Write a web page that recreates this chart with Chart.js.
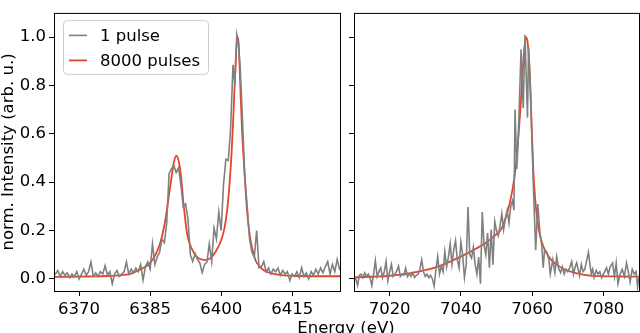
<!DOCTYPE html>
<html>
<head>
<meta charset="utf-8">
<script src="https://cdn.jsdelivr.net/npm/chart.js@4.4.1/dist/chart.umd.min.js"></script>
<style>
  html, body { margin: 0; padding: 0; background: #fff; }
  #wrap { position: relative; width: 640px; height: 333px; overflow: hidden; }
  #cLeft  { position: absolute; left: 0;     top: 0; width: 345px; height: 333px; }
  #cRight { position: absolute; left: 340px; top: 0; width: 300px; height: 333px; }
  #xTitle {
    position: absolute; left: 246px; width: 200px; top: 318px;
    text-align: center; font: 16.5px/20px "DejaVu Sans"; color: #000; white-space: nowrap;
  }
</style>
</head>
<body>
<div id="wrap">
  <canvas id="cLeft" width="345" height="333"></canvas>
  <canvas id="cRight" width="300" height="333"></canvas>
  <div id="xTitle">Energy (eV)</div>
</div>
<script>
// =====================================================
// DATA
// =====================================================

const seriesNames = ['1 pulse', '8000 pulses']

const yTicks      = [0, 0.2, 0.4, 0.6, 0.8, 1.0]
const leftXTicks  = [6370, 6385, 6400, 6415]
const rightXTicks = [7020, 7040, 7060, 7080]

// ── Kα region, single pulse ─────────────────────────
const kaPulseE = [
  6364.5, 6365, 6365.5, 6366, 6366.5, 6367, 6367.5, 6368, 6368.5, 6369, 6369.5,
  6370, 6370.5, 6371, 6371.5, 6372, 6372.5, 6373, 6373.5, 6374, 6374.5,
  6375, 6375.5, 6376, 6376.5, 6377, 6377.5, 6378, 6378.5, 6379, 6379.5,
  6380, 6380.5, 6381, 6381.5, 6382, 6382.5, 6383, 6383.5, 6384, 6384.5,
  6385, 6385.5, 6386, 6386.5, 6387, 6387.5, 6388, 6388.5, 6389, 6389.5,
  6390, 6390.5, 6391, 6391.5, 6392, 6392.5, 6393, 6393.5, 6394, 6394.5,
  6395, 6395.5, 6396, 6396.5, 6397, 6397.5, 6398, 6398.5, 6399, 6399.5,
  6400, 6400.5, 6401, 6401.5, 6402, 6402.5, 6402.9, 6403.3, 6403.6, 6404, 6404.4,
  6405, 6405.5, 6406, 6406.5, 6407, 6407.5, 6408, 6408.5, 6409, 6409.5,
  6410, 6410.5, 6411, 6411.5, 6412, 6412.5, 6413, 6413.5, 6414, 6414.5,
  6415, 6415.5, 6416, 6416.5, 6417, 6417.5, 6418, 6418.5, 6419, 6419.5,
  6420, 6420.5, 6421, 6421.5, 6422, 6422.5, 6423, 6423.5, 6424, 6424.5, 6425, 6425.5
]
const kaPulseI = [
  0.03, 0.02, 0.035, 0.01, 0.03, 0.015, 0.025, 0.005, 0.02, 0.01, 0.03,
  0.0, 0.02, 0.04, 0.015, 0.03, 0.07, 0.01, 0.025, 0.01, 0.03,
  0.02, 0.055, 0.015, 0.03, -0.02, 0.02, 0.035, 0.01, 0.02, 0.03,
  0.07, 0.02, 0.04, 0.025, 0.045, 0.03, 0.06, -0.005, 0.05, 0.07,
  0.04, 0.145, 0.06, 0.09, 0.11, 0.165, 0.15, 0.23, 0.435, 0.455,
  0.47, 0.44, 0.46, 0.39, 0.30, 0.31, 0.245, 0.10, 0.072, 0.105,
  0.08, 0.066, 0.026, 0.06, 0.07, 0.145, 0.072, 0.21, 0.165, 0.277,
  0.20, 0.39, 0.495, 0.49, 0.62, 0.885, 0.80, 1.01, 0.98, 0.88, 0.71,
  0.42, 0.30, 0.165, 0.11, 0.09, 0.20, 0.046, 0.05, 0.072, 0.03,
  0.045, 0.02, 0.04, 0.03, 0.045, 0.015, 0.035, 0.02, 0.03, -0.007,
  0.02, 0.01, 0.03, 0.005, 0.046, 0.01, 0.025, 0.0, 0.03, 0.015,
  0.04, 0.02, 0.045, 0.025, 0.05, 0.072, 0.02, 0.06, 0.03, 0.08, 0.04, 0.03
]

// ── Kα region, 8000 pulses ──────────────────────────
const kaAvgE = [
  6364.5, 6368, 6372, 6376, 6379, 6381, 6382.5, 6384, 6385, 6386, 6387, 6388, 6388.5,
  6389, 6389.6, 6390, 6390.5, 6391, 6391.3, 6391.7, 6392, 6392.4, 6392.7, 6393.2,
  6393.8, 6394.5, 6395.2, 6396, 6397, 6397.8, 6398.4, 6399.2, 6400, 6400.7, 6401.3,
  6401.8, 6402.2, 6402.6, 6403, 6403.4, 6403.7, 6404, 6404.4, 6404.9, 6405.4, 6405.9,
  6406.5, 6407.3, 6408, 6409, 6410, 6412, 6415, 6420, 6425.5
]
const kaAvgI = [
  0.008, 0.009, 0.010, 0.012, 0.016, 0.022, 0.035, 0.05, 0.066, 0.095, 0.14, 0.22, 0.28,
  0.35, 0.43, 0.48, 0.51, 0.49, 0.46, 0.39, 0.32, 0.25, 0.20, 0.155,
  0.125, 0.10, 0.086, 0.08, 0.079, 0.087, 0.10, 0.125, 0.16, 0.21, 0.29,
  0.40, 0.52, 0.68, 0.87, 1.0, 0.97, 0.82, 0.62, 0.45, 0.30, 0.20,
  0.13, 0.075, 0.055, 0.036, 0.027, 0.018, 0.013, 0.011, 0.011
]

// ── Kβ region, single pulse ─────────────────────────
const kbPulseE = [
  7009.5, 7010, 7010.5, 7011, 7011.5, 7012, 7012.5, 7013, 7013.5, 7014, 7014.5,
  7015, 7015.5, 7016, 7016.5, 7017, 7017.5, 7018, 7018.5, 7019, 7019.5,
  7020, 7020.5, 7021, 7021.5, 7022, 7022.5, 7023, 7023.5, 7024, 7024.5,
  7025, 7025.5, 7026, 7026.5, 7027, 7027.5, 7028, 7028.5, 7029, 7029.5,
  7030, 7030.5, 7031, 7031.5, 7032, 7032.5, 7033, 7033.5, 7034, 7034.5,
  7035, 7035.5, 7036, 7036.5, 7037, 7037.5, 7038, 7038.5, 7039, 7039.5,
  7040, 7040.5, 7041, 7041.5, 7042, 7042.5, 7043, 7043.5, 7044, 7044.5,
  7045, 7045.5, 7046, 7046.5, 7047, 7047.5, 7048, 7048.5, 7049, 7049.5,
  7050, 7050.5, 7051, 7051.5, 7052, 7052.5, 7053, 7053.5, 7054, 7054.5, 7054.9,
  7055.2, 7055.7, 7056.1, 7056.9, 7057.5, 7058, 7058.7, 7059, 7059.5, 7059.9,
  7060.4, 7061, 7061.6, 7062.2, 7062.7, 7063.1, 7063.5, 7064.1, 7064.7, 7065.1,
  7065.8, 7066.4, 7066.9, 7067.5, 7068, 7068.5, 7069, 7069.5, 7070, 7070.5,
  7071.1, 7071.6, 7072, 7072.5, 7073.3, 7073.8, 7074.3, 7074.8, 7075.8, 7076.6,
  7077, 7077.4, 7078, 7078.5, 7079, 7079.5, 7080, 7080.9, 7081.4, 7081.9,
  7082.6, 7083.1, 7083.6, 7084.1, 7084.7, 7085.3, 7085.9, 7086.5, 7087, 7087.5,
  7088.1, 7088.7, 7089.2, 7089.6, 7090, 7090.5
]
const kbPulseI = [
  0.01, 0.01, 0.0, -0.027, 0.015, 0.02, 0.005, 0.025, 0.01, 0.02, 0.005,
  -0.027, 0.02, 0.075, 0.01, 0.03, 0.046, 0.005, 0.03, 0.072, -0.007,
  0.03, 0.06, 0.01, 0.02, 0.033, 0.053, 0.01, 0.02, 0.015, 0.045,
  0.01, 0.02, 0.01, 0.025, 0.006, 0.015, 0.02, 0.04, 0.079, 0.03,
  0.01, 0.02, 0.005, 0.015, 0.0, -0.03, 0.04, 0.092, 0.02, 0.053,
  0.03, 0.112, 0.05, 0.09, 0.145, 0.06, 0.12, 0.158, 0.08, 0.046,
  0.152, 0.10, 0.006, 0.06, 0.297, 0.10, 0.086, 0.13, 0.06, 0.02,
  0.09, -0.02, 0.277, 0.14, 0.10, 0.19, 0.046, 0.204, 0.059, 0.238,
  0.20, 0.178, 0.22, 0.27, 0.204, 0.25, 0.284, 0.231, 0.30, 0.323, 0.284,
  0.70, 0.455, 0.58, 0.95, 0.706, 1.01, 0.667, 0.957, 0.80, 0.60,
  0.363, 0.119, 0.31, 0.19, 0.139, 0.046, 0.12, 0.112, 0.08, 0.02,
  0.079, 0.026, 0.092, 0.04, 0.026, 0.05, 0.02, 0.04, 0.03, 0.045,
  0.072, 0.02, 0.045, 0.066, 0.013, 0.06, 0.03, 0.04, 0.11, 0.02,
  0.04, 0.006, 0.035, 0.02, 0.03, 0.005, 0.02, 0.046, 0.02, 0.05,
  0.066, 0.01, 0.066, -0.02, 0.02, 0.04, 0.01, 0.066, 0.03, -0.013,
  0.04, 0.02, 0.03, -0.033, 0.01, 0.02
]

// ── Kβ region, 8000 pulses ──────────────────────────
const kbAvgE = [
  7009.5, 7015, 7020, 7025, 7030, 7034, 7038.5, 7043, 7047.5, 7050, 7051.5, 7052.5,
  7053.5, 7054.5, 7055.3, 7056, 7056.7, 7057.3, 7057.8, 7058.3, 7058.8, 7059.3,
  7059.8, 7060.3, 7060.8, 7061.5, 7062.2, 7063, 7064, 7065.3, 7067, 7069,
  7071.5, 7075, 7080, 7085, 7090.5
]
const kbAvgI = [
  0.006, 0.009, 0.013, 0.022, 0.036, 0.053, 0.082, 0.115, 0.155, 0.185, 0.21, 0.25,
  0.30, 0.37, 0.45, 0.56, 0.70, 0.85, 0.95, 1.0, 0.97, 0.86,
  0.66, 0.46, 0.34, 0.24, 0.18, 0.14, 0.108, 0.08, 0.058, 0.04,
  0.027, 0.016, 0.011, 0.01, 0.009
]

// =====================================================
// ESTILO
// =====================================================

const FONT   = { family: 'DejaVu Sans', size: 16.5 }
const GRAY   = '#808080'
const RED    = '#e5432a'

const pts = (xs, ys) => xs.map((x, i) => ({ x, y: ys[i] }))

// marco completo alrededor del área (estilo matplotlib)
const frame = {
  id: 'frame',
  afterDraw(chart) {
    const { ctx, chartArea: a } = chart
    ctx.save()
    ctx.strokeStyle = '#000'
    ctx.lineWidth = 1
    ctx.strokeRect(a.left + 0.5, a.top + 0.5, a.right - a.left, a.bottom - a.top)
    ctx.restore()
  }
}

// leyenda dentro del área, esquina superior izquierda
const innerLegend = {
  id: 'innerLegend',
  afterDatasetsDraw(chart, args, opts) {
    if (!opts.show) return
    const { ctx, chartArea: a } = chart
    const x = a.left + 9, y = a.top + 7, w = 145, h = 54
    ctx.save()
    ctx.beginPath()
    ctx.roundRect(x + 0.5, y + 0.5, w, h, 4)
    ctx.fillStyle = 'rgba(255,255,255,0.8)'
    ctx.fill()
    ctx.strokeStyle = '#cccccc'
    ctx.lineWidth = 1
    ctx.stroke()
    ctx.font = `${FONT.size}px "${FONT.family}"`
    ctx.textBaseline = 'alphabetic'
    ctx.fillStyle = '#000'
    chart.data.datasets.forEach((ds, i) => {
      const ly = y + 15.5 + i * 25
      ctx.beginPath()
      ctx.moveTo(x + 6, ly)
      ctx.lineTo(x + 24, ly)
      ctx.strokeStyle = ds.borderColor
      ctx.lineWidth = ds.borderWidth
      ctx.stroke()
      ctx.fillText(ds.label, x + 37, ly + 5.5)
    })
    ctx.restore()
  }
}

function makePanel(canvasId, pulse, avg, xMin, xMax, xTicks, isLeft) {

  return new Chart(document.getElementById(canvasId), {
    type: 'scatter',
    data: {
      datasets: [
        {
          label: seriesNames[0],
          data: pulse,
          showLine: true,
          borderColor: GRAY,
          borderWidth: 1.6,
          pointRadius: 0,
          tension: 0
        },
        {
          label: seriesNames[1],
          data: avg,
          showLine: true,
          borderColor: RED,
          borderWidth: 1.8,
          pointRadius: 0,
          cubicInterpolationMode: 'monotone'
        }
      ]
    },
    options: {
      responsive: false,
      animation: false,
      devicePixelRatio: 1,
      events: [],
      layout: { padding: { left: 0, right: isLeft ? 5 : 1, top: 1, bottom: 0 } },
      plugins: {
        legend: { display: false },
        tooltip: { enabled: false },
        innerLegend: { show: isLeft }
      },
      scales: {
        x: {
          type: 'linear',
          min: xMin,
          max: xMax,
          afterBuildTicks: s => { s.ticks = xTicks.map(v => ({ value: v })) },
          afterFit: s => { s.height = 42 },
          ticks: {
            font: FONT, color: '#000', padding: 4, maxRotation: 0,
            callback: v => String(v)
          },
          grid: { drawOnChartArea: false, drawTicks: true, tickLength: 5, tickColor: '#000' },
          border: { display: false }
        },
        y: {
          min: -0.05,
          max: 1.1,
          afterBuildTicks: s => { s.ticks = yTicks.map(v => ({ value: v })) },
          afterFit: s => { s.width = isLeft ? 54 : 14 },
          ticks: {
            font: FONT, color: '#000', padding: 3,
            callback: v => isLeft ? v.toFixed(1) : ''
          },
          grid: { drawOnChartArea: false, drawTicks: true, tickLength: 5, tickColor: '#000' },
          border: { display: false },
          title: {
            display: isLeft,
            text: 'norm. Intensity (arb. u.)',
            font: { ...FONT, lineHeight: 1.1 },
            color: '#000',
            padding: { top: 0, bottom: 0 }
          }
        }
      }
    },
    plugins: [frame, innerLegend]
  })
}

// =====================================================
// INIT
// =====================================================

makePanel('cLeft',  pts(kaPulseE, kaPulseI), pts(kaAvgE, kaAvgI), 6364.7, 6425.1, leftXTicks, true)
makePanel('cRight', pts(kbPulseE, kbPulseI), pts(kbAvgE, kbAvgI), 7010, 7090, rightXTicks, false)
</script>
</body>
</html>
